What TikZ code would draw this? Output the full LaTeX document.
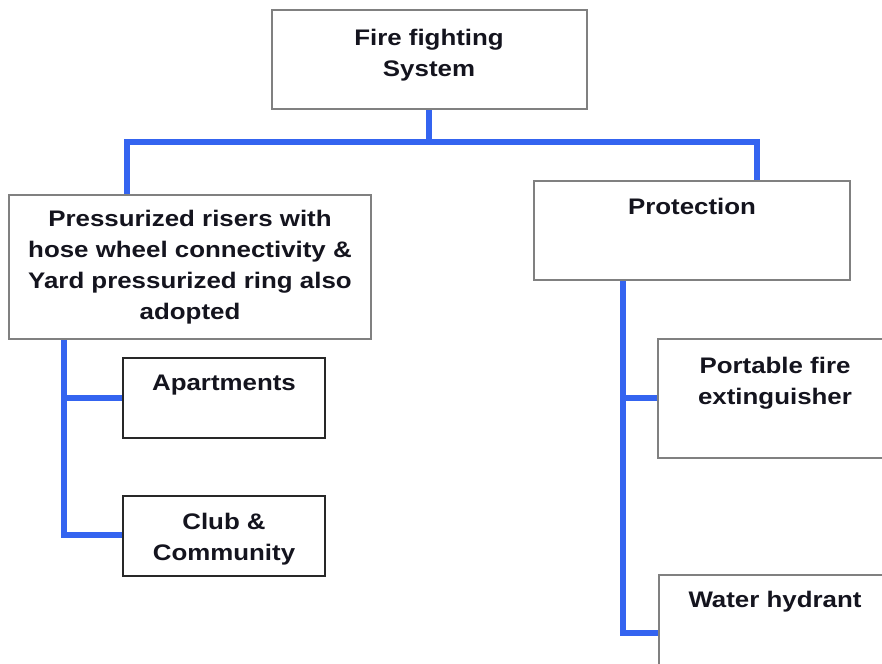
\documentclass[tikz,border=0pt]{standalone}
\usepackage{fontspec}
\setmainfont{Liberation Sans}
\newfontfamily\lblfont[FakeStretch=1.15]{Liberation Sans}
\definecolor{conncol}{RGB}{52,100,240}
\definecolor{grayedge}{RGB}{128,128,128}
\definecolor{darkedge}{RGB}{40,40,40}
\definecolor{txtcol}{RGB}{20,20,30}
\begin{document}
\begin{tikzpicture}[x=1pt,y=-1pt,
  box/.style={draw=grayedge, line width=1.5pt, fill=white, rectangle, inner sep=0pt},
  darkbox/.style={box, draw=darkedge},
  lbl/.style={align=center, inner sep=0pt, text=txtcol, font=\lblfont\bfseries\fontsize{22.5}{31}\selectfont},
  conn/.style={draw=conncol, line width=6pt, line join=miter}]
\useasboundingbox (0,0) rectangle (882,663);
\clip (0,0) rectangle (882,663);
% junction coordinates
\coordinate (jl) at (127,142);
\coordinate (jr) at (757,142);
\coordinate (lt) at (64,339);
\coordinate (rt) at (623,280);
% connectors (drawn first, boxes on top)
\draw[conn] (429,109) |- (jl) -- (127,195);
\draw[conn] (429,109) |- (jr) -- (757,181);
\draw[conn] (lt) |- (123,535);
\draw[conn] (64,398) -- (123,398);
\draw[conn] (rt) |- (659,633);
\draw[conn] (623,398) -- (658,398);
% boxes
\node[box, minimum width=315pt, minimum height=99pt] (top) at (429.5,59.5) {};
\node[box, minimum width=362pt, minimum height=144pt] (pres) at (190,267) {};
\node[box, minimum width=316pt, minimum height=99pt] (prot) at (692,230.5) {};
\node[darkbox, minimum width=202pt, minimum height=80pt] (apt) at (224,398) {};
\node[darkbox, minimum width=202pt, minimum height=80pt] (club) at (224,536) {};
\node[box, minimum width=260pt, minimum height=119pt] (port) at (788,398.5) {};
\node[box, minimum width=260pt, minimum height=119pt] (water) at (789,634.5) {};
% labels
\node[lbl] (topt) at (429,55) {Fire fighting\\System};
\node[lbl] (prest) at (190,267) {Pressurized risers with\\hose wheel connectivity \&\\Yard pressurized ring also\\adopted};
\node[lbl] (prott) at (692,206) {Protection};
\node[lbl] (aptt) at (224,385) {Apartments};
\node[lbl] (clubt) at (224,539) {Club \&\\Community};
\node[lbl] (portt) at (775,383) {Portable fire\\extinguisher};
\node[lbl] (watert) at (775,602) {Water hydrant};
\end{tikzpicture}
\end{document}
